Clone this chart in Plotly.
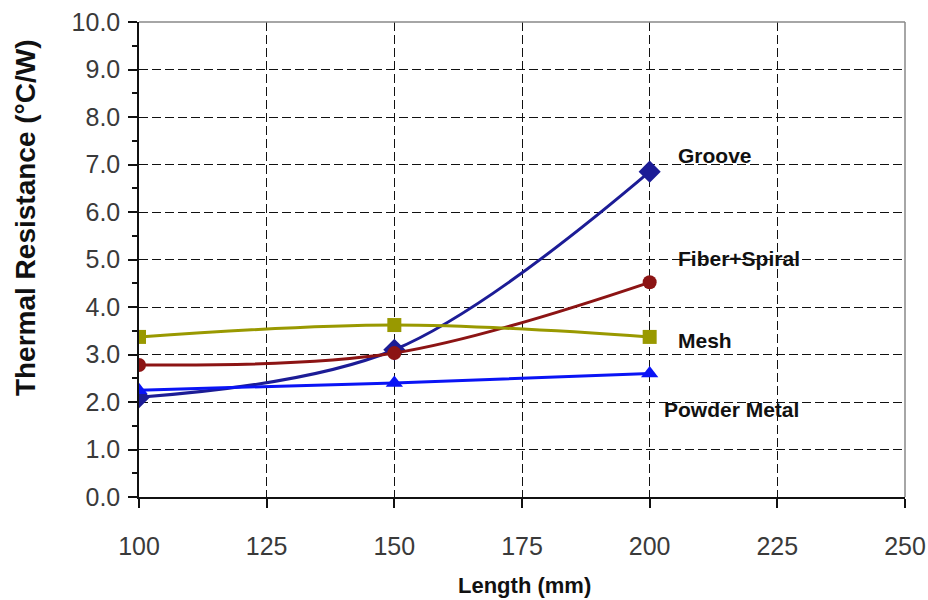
import plotly.graph_objects as go

lengths = [100, 150, 200]
groove = [2.1, 3.1, 6.85]
fiber_spiral = [2.78, 3.03, 4.52]
mesh = [3.37, 3.62, 3.37]
powder_metal = [2.25, 2.4, 2.6]

series_names = ["Groove", "Fiber+Spiral", "Mesh", "Powder Metal"]
series_values = [groove, fiber_spiral, mesh, powder_metal]
colors = ["#1c1c96", "#8c1414", "#999900", "#0a14f5"]
symbols = ["diamond", "circle", "square", "triangle-up"]
marker_sizes = [17, 14, 14, 15]

label_x = [205.1, 205.1, 205.1, 202.5]
label_y = [7.2, 5.02, 3.3, 1.84]

x_ticks = [100, 125, 150, 175, 200, 225, 250]
y_ticks = [i * 1.0 for i in range(11)]

FONT = "Liberation Sans, Arial, sans-serif"

fig = go.Figure()
for name, vals, c, s, ms in zip(series_names, series_values, colors, symbols, marker_sizes):
    fig.add_trace(go.Scatter(
        x=lengths, y=vals, name=name, mode="lines+markers",
        line=dict(color=c, width=3, shape="spline", smoothing=1.0),
        marker=dict(symbol=s, size=ms, color=c),
        showlegend=False,
    ))

for name, lx, ly in zip(series_names, label_x, label_y):
    fig.add_annotation(
        x=lx, y=ly, text="<b>" + name + "</b>", showarrow=False,
        xanchor="left", yanchor="middle",
        font=dict(family=FONT, size=21, color="#111111"),
    )

# axis titles
fig.add_annotation(
    xref="paper", yref="paper", x=-0.149, y=0.589, text="<b>Thermal Resistance (°C/W)</b>",
    textangle=-90, showarrow=False, xanchor="center", yanchor="middle",
    font=dict(family=FONT, size=28, color="#111111"),
)
fig.add_annotation(
    xref="paper", yref="paper", x=0.503, y=-0.186, text="<b>Length (mm)</b>",
    showarrow=False, xanchor="center", yanchor="middle",
    font=dict(family=FONT, size=22, color="#111111"),
)

grid_style = dict(showgrid=True, gridcolor="#111111", gridwidth=1.3, griddash="9px,4px")

fig.update_xaxes(
    range=[100, 250], tickvals=x_ticks, ticktext=[str(v) for v in x_ticks],
    ticks="outside", ticklen=9, tickcolor="#111111", tickwidth=1.5,
    ticklabelstandoff=17, automargin=False,
    showline=True, linecolor="#111111", linewidth=1.5, mirror=False,
    zeroline=False,
    tickfont=dict(family=FONT, size=25, color="#3a3a3a"),
    **grid_style,
)
fig.update_yaxes(
    range=[0, 10], tickvals=y_ticks, ticktext=["%.1f" % v for v in y_ticks],
    ticks="outside", ticklen=9, tickcolor="#111111", tickwidth=1.5,
    ticklabelstandoff=3, automargin=False,
    minor=dict(dtick=0.5, ticks="outside", ticklen=5, tickcolor="#111111", showgrid=False),
    showline=True, linecolor="#111111", linewidth=1.5,
    zeroline=False,
    tickfont=dict(family=FONT, size=25, color="#3a3a3a"),
    **grid_style,
)

# plot border on top and right
fig.add_shape(type="line", xref="paper", yref="paper", x0=0, x1=1, y0=1, y1=1,
              line=dict(color="#888888", width=1.5))
fig.add_shape(type="line", xref="paper", yref="paper", x0=1, x1=1, y0=0, y1=1,
              line=dict(color="#888888", width=1.5))

fig.update_layout(
    width=928, height=600,
    margin=dict(l=139, r=23, t=22, b=103, autoexpand=False),
    plot_bgcolor="white", paper_bgcolor="white",
)

fig.write_html("out.html", config={"displayModeBar": False},
               post_script="document.body.style.margin='0';")
